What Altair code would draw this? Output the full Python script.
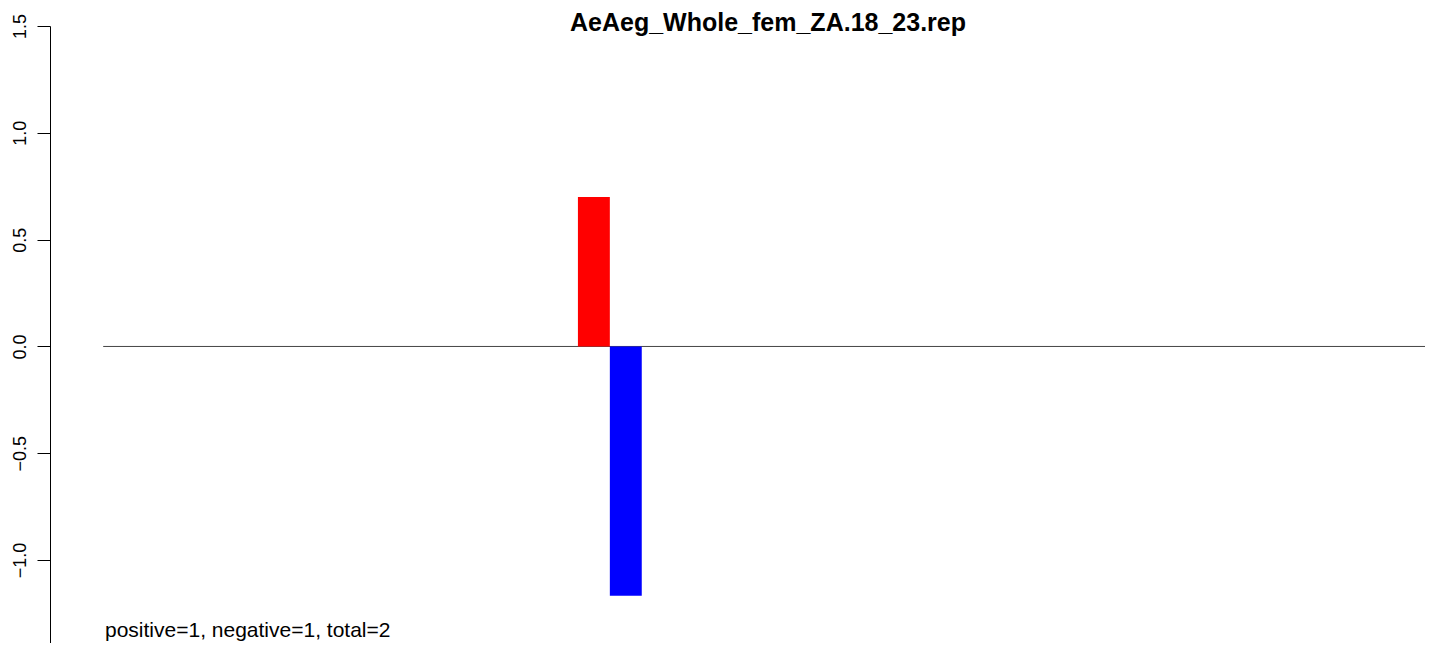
import altair as alt
import pandas as pd

# Data
bar_start = [35.7, 38.1]
bar_end = [38.1, 40.5]
bar_value = [0.70, -1.167]
bar_color = ["red", "blue"]

line_x = [0, 100]
line_y = [0, 0]

y_ticks = [-1.0, -0.5, 0.0, 0.5, 1.0, 1.5]
title_text = "AeAeg_Whole_fem_ZA.18_23.rep"

bars = pd.DataFrame({
    "start": bar_start,
    "end": bar_end,
    "value": bar_value,
    "base": [0] * len(bar_value),
    "color": bar_color,
})
zero = pd.DataFrame({"x": line_x, "y": line_y})

n_pos = sum(1 for v in bar_value if v > 0)
n_neg = sum(1 for v in bar_value if v < 0)
note = pd.DataFrame({"label": [f"positive={n_pos}, negative={n_neg}, total={n_pos + n_neg}"]})
title_df = pd.DataFrame({"label": [title_text]})

FONT = "Liberation Sans"
xscale = alt.Scale(domain=[-4, 99.4], nice=False, zero=False)
yscale = alt.Scale(domain=[-1.388, 1.5], nice=False, zero=False)

yaxis = alt.Axis(
    values=y_ticks, format=".1f", grid=False,
    labelAngle=270, labelAlign="center", labelBaseline="alphabetic",
    labelPadding=12, tickSize=13, tickColor="black", domainColor="black",
    domainWidth=1, tickWidth=1, labelFont=FONT, labelFontSize=18,
    labelColor="black", title=None, labelOverlap=False, labelFlush=False,
)

line = alt.Chart(zero).mark_line(color="#444444", strokeWidth=1, clip=True).encode(
    x=alt.X("x:Q", scale=xscale, axis=None),
    y=alt.Y("y:Q", scale=yscale, axis=yaxis),
)

rects = alt.Chart(bars).mark_rect(clip=True).encode(
    x=alt.X("start:Q", scale=xscale, axis=None),
    x2="end:Q",
    y=alt.Y("value:Q", scale=yscale, axis=yaxis),
    y2="base:Q",
    color=alt.Color("color:N", scale=None),
)

text = alt.Chart(note).mark_text(
    align="left", baseline="alphabetic", font=FONT, fontSize=21, color="black"
).encode(
    x=alt.value(55),
    y=alt.value(611),
    text="label:N",
)

title = alt.Chart(title_df).mark_text(
    align="center", baseline="alphabetic", font=FONT, fontSize=25,
    fontWeight="bold", color="black"
).encode(
    x=alt.value(718),
    y=alt.value(5),
    text="label:N",
)

chart = alt.layer(line, rects, text, title).properties(
    width=1375,
    height=617,
    autosize=alt.AutoSizeParams(type="none"),
    padding={"left": 42, "top": 18, "right": 0, "bottom": 0},
).configure_view(stroke=None)

chart.save("out.html", embed_options={"renderer": "svg", "actions": False})
